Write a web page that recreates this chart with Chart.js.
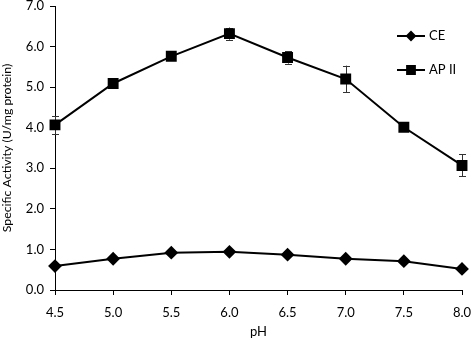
<!DOCTYPE html>
<html><head><meta charset="utf-8">
<script src="https://cdn.jsdelivr.net/npm/chart.js@4"></script>
<style>html,body{margin:0;padding:0;background:#fff}#wrap{width:472px;height:340px;position:relative}</style>
</head><body><div id="wrap"><canvas id="c"></canvas></div>
<script>
const phValues = [4.5, 5.0, 5.5, 6.0, 6.5, 7.0, 7.5, 8.0];
const ceActivity = [0.59, 0.77, 0.92, 0.94, 0.87, 0.77, 0.71, 0.52];
const ap2Activity = [4.07, 5.09, 5.76, 6.32, 5.73, 5.20, 4.01, 3.07];
const ap2Error = [0.22, 0.05, 0.08, 0.15, 0.15, 0.33, 0.05, 0.27];
const seriesNames = ['CE', 'AP II'];
const xTitle = 'pH';
const yTitle = 'Specific Activity (U/mg protein)';

const FONT = 'Lato, "Open Sans", sans-serif';
Chart.defaults.font.family = FONT;
Chart.defaults.color = '#000';

const errorBars = {
  id: 'errorBars',
  beforeDatasetsDraw(chart) {
    const ctx = chart.ctx, ys = chart.scales.y;
    const meta = chart.getDatasetMeta(1);
    ctx.save();
    ctx.strokeStyle = '#333';
    ctx.lineWidth = 1;
    meta.data.forEach((pt, i) => {
      const v = ap2Activity[i], e = ap2Error[i];
      const yt = ys.getPixelForValue(v + e), yb = ys.getPixelForValue(v - e);
      const x = Math.round(pt.x) + 0.5;
      ctx.beginPath();
      ctx.moveTo(x, yt); ctx.lineTo(x, yb);
      ctx.moveTo(x - 3.5, Math.round(yt) + 0.5); ctx.lineTo(x + 3.5, Math.round(yt) + 0.5);
      ctx.moveTo(x - 3.5, Math.round(yb) + 0.5); ctx.lineTo(x + 3.5, Math.round(yb) + 0.5);
      ctx.stroke();
    });
    ctx.restore();
  }
};

const customLegend = {
  id: 'customLegend',
  afterDraw(chart) {
    const ctx = chart.ctx;
    const items = [
      {name: seriesNames[0], y: 36, style: 'rectRot', r: 4},
      {name: seriesNames[1], y: 70, style: 'rect', r: 5.5}
    ];
    ctx.save();
    items.forEach(it => {
      ctx.strokeStyle = '#000';
      ctx.lineWidth = 2;
      ctx.beginPath();
      ctx.moveTo(397, it.y); ctx.lineTo(425, it.y);
      ctx.stroke();
      ctx.fillStyle = '#000';
      Chart.helpers.drawPoint(ctx, {pointStyle: it.style, radius: it.r, borderWidth: 1}, 411, it.y);
      ctx.fillStyle = '#000';
      ctx.font = '13px ' + FONT;
      ctx.textBaseline = 'middle';
      ctx.textAlign = 'left';
      ctx.fillText(it.name, 429, it.y);
    });
    ctx.restore();
  }
};

new Chart(document.getElementById('c'), {
  type: 'line',
  data: {
    labels: phValues,
    datasets: [
      {
        label: seriesNames[0],
        data: phValues.map((x, i) => ({x, y: ceActivity[i]})),
        borderColor: '#000', backgroundColor: '#000', borderWidth: 2,
        pointStyle: 'rectRot', pointRadius: 5.5, pointBackgroundColor: '#000', pointBorderColor: '#000',
        tension: 0, clip: false
      },
      {
        label: seriesNames[1],
        data: phValues.map((x, i) => ({x, y: ap2Activity[i]})),
        borderColor: '#000', backgroundColor: '#000', borderWidth: 2,
        pointStyle: 'rect', pointRadius: 6.3, pointBackgroundColor: '#000', pointBorderColor: '#000',
        tension: 0, clip: false
      }
    ]
  },
  options: {
    responsive: true,
    maintainAspectRatio: false,
    animation: false,
    layout: {autoPadding: false, padding: {top: 6, right: 10, left: 0, bottom: 0}},
    plugins: {legend: {display: false}, tooltip: {enabled: false}},
    scales: {
      x: {
        type: 'linear', min: 4.5, max: 8.0,
        ticks: {stepSize: 0.5, callback: v => v.toFixed(1), font: {size: 13}, color: '#000', padding: 10},
        grid: {display: true, drawOnChartArea: false, drawTicks: true, tickLength: 5, color: '#000'},
        border: {color: '#000', width: 1},
        title: {display: true, text: xTitle, font: {size: 13}, color: '#000', padding: {top: 6, bottom: 0}},
        afterFit: s => { s.height = 50; s.paddingLeft = 0; s.paddingRight = 0; }
      },
      y: {
        min: 0, max: 7,
        ticks: {stepSize: 1, callback: v => v.toFixed(1), font: {size: 13}, color: '#000', padding: 6},
        grid: {display: true, drawOnChartArea: false, drawTicks: true, tickLength: 5, color: '#000'},
        border: {color: '#000', width: 1},
        title: {display: true, text: yTitle, font: {size: 12.3}, color: '#000', padding: {top: 0, bottom: 2}},
        afterFit: s => { s.width = 55; s.paddingTop = 0; s.paddingBottom = 0; }
      }
    }
  },
  plugins: [errorBars, customLegend]
});
</script>
</body></html>
